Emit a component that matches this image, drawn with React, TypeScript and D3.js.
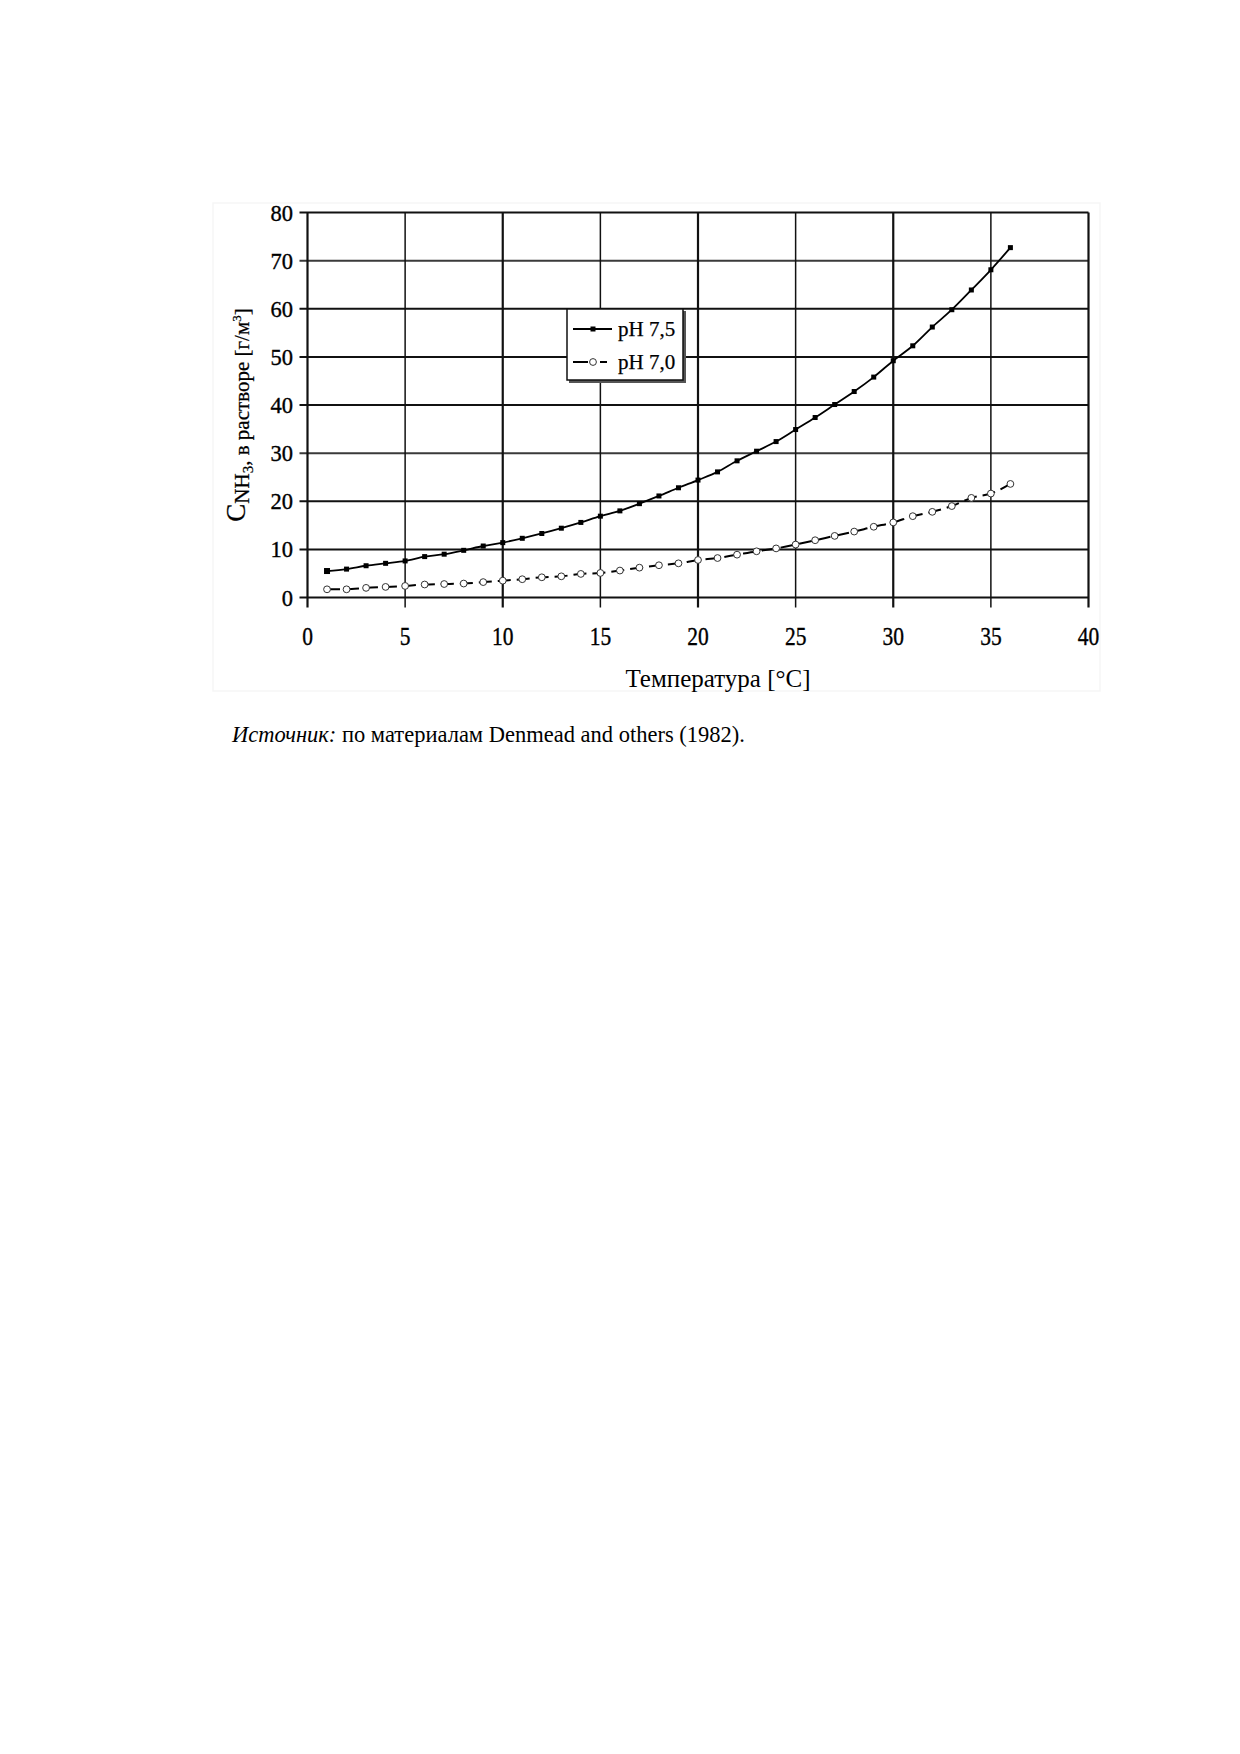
import React, { useEffect, useRef } from 'react';
import * as d3 from 'd3';

// temperature, °C
const temps = [
  1, 2, 3, 4, 5, 6, 7, 8, 9, 10, 11, 12, 13, 14, 15, 16, 17, 18,
  19, 20, 21, 22, 23, 24, 25, 26, 27, 28, 29, 30, 31, 32, 33, 34, 35, 36,
];

// C NH3 in solution, g/m3
const ph75 = [
  5.5, 5.9, 6.6, 7.1, 7.6, 8.5, 9.0, 9.8, 10.7, 11.4, 12.3, 13.3, 14.4, 15.6,
  16.9, 18.0, 19.5, 21.1, 22.8, 24.4, 26.1, 28.4, 30.4, 32.4, 34.9, 37.4,
  40.1, 42.8, 45.8, 49.2, 52.3, 56.2, 59.8, 63.9, 68.1, 72.7,
];
const ph70 = [
  1.7, 1.7, 2.0, 2.2, 2.4, 2.7, 2.8, 2.9, 3.2, 3.5, 3.8, 4.2, 4.4, 4.9, 5.1,
  5.6, 6.2, 6.7, 7.1, 7.8, 8.2, 8.9, 9.6, 10.2, 11.0, 11.9, 12.8, 13.7, 14.7,
  15.6, 16.9, 17.8, 19.0, 20.7, 21.6, 23.6,
];

const xTicks = [0, 5, 10, 15, 20, 25, 30, 35, 40];
const yTicks = [0, 10, 20, 30, 40, 50, 60, 70, 80];
const seriesNames = ['pH 7,5', 'pH 7,0'];

const FONT = '"Liberation Serif", "Times New Roman", serif';

const App = () => {
  const svgRef = useRef<SVGSVGElement>(null);

  useEffect(() => {
    if (!svgRef.current) return;
    const svg = d3.select(svgRef.current);
    svg.selectAll('*').remove();

    const x = d3.scaleLinear().domain([0, 40]).range([307.5, 1088.5]);
    const y = d3.scaleLinear().domain([0, 80]).range([597.5, 212.5]);

    // faint outer frame of the pasted figure
    svg.append('rect')
      .attr('x', 213).attr('y', 203)
      .attr('width', 887).attr('height', 488)
      .attr('fill', 'none')
      .attr('stroke', '#f6f6f6')
      .attr('stroke-width', 1.5);

    const grid = svg.append('g');

    // horizontal grid + y ticks
    grid.selectAll('line.h')
      .data(yTicks)
      .enter()
      .append('line')
      .attr('x1', x(0) - 8)
      .attr('x2', x(40))
      .attr('y1', d => y(d))
      .attr('y2', d => y(d))
      .attr('stroke', d => (d === 70 || d === 30 ? '#3a3a3a' : '#111'))
      .attr('stroke-width', 2);

    // vertical grid + x ticks
    grid.selectAll('line.v')
      .data(xTicks)
      .enter()
      .append('line')
      .attr('x1', d => x(d))
      .attr('x2', d => x(d))
      .attr('y1', y(80))
      .attr('y2', y(0) + 10)
      .attr('stroke', '#111')
      .attr('stroke-width', d => (d % 10 === 0 ? 2.2 : 1.5));

    // tick labels
    svg.append('g')
      .selectAll('text')
      .data(yTicks)
      .enter()
      .append('text')
      .attr('x', 293)
      .attr('y', d => y(d) + 8)
      .attr('text-anchor', 'end')
      .attr('font-family', FONT)
      .attr('font-size', 22.5)
      .attr('fill', '#000')
      .attr('stroke', '#000')
      .attr('stroke-width', 0.35)
      .text(d => d);

    // x digits in the scan look narrow, so squeeze them
    svg.append('g')
      .selectAll('text')
      .data(xTicks)
      .enter()
      .append('text')
      .attr('transform', d => `translate(${x(d)},645) scale(0.86,1)`)
      .attr('text-anchor', 'middle')
      .attr('font-family', FONT)
      .attr('font-size', 25)
      .attr('fill', '#000')
      .attr('stroke', '#000')
      .attr('stroke-width', 0.35)
      .text(d => d);

    // x axis title
    svg.append('text')
      .attr('x', 718)
      .attr('y', 687)
      .attr('text-anchor', 'middle')
      .attr('font-family', FONT)
      .attr('font-size', 25)
      .attr('fill', '#000')
      .text('Температура [°C]');

    // y axis title: C with subscript NH3
    const yt = svg.append('text')
      .attr('transform', 'translate(249,415) rotate(-90)')
      .attr('text-anchor', 'middle')
      .attr('font-family', FONT)
      .attr('font-size', 21)
      .attr('fill', '#000')
      .attr('stroke', '#000')
      .attr('stroke-width', 0.25);
    yt.append('tspan').attr('font-size', 27).attr('dy', -4).text('C');
    yt.append('tspan').attr('dy', 4).text('NH');
    yt.append('tspan').attr('font-size', 15).attr('dy', 4).text('3');
    yt.append('tspan').attr('dy', -4).text(', в растворе [г/м');
    yt.append('tspan').attr('font-size', 13).attr('dy', -8).text('3');
    yt.append('tspan').attr('dy', 8).text(']');

    const pts75 = temps.map((t, i) => [t, ph75[i]] as [number, number]);
    const pts70 = temps.map((t, i) => [t, ph70[i]] as [number, number]);

    const line = d3.line<[number, number]>()
      .x(d => x(d[0]))
      .y(d => y(d[1]))
      .curve(d3.curveMonotoneX);

    // pH 7.0 dashed with open circles
    svg.append('path')
      .datum(pts70)
      .attr('d', line)
      .attr('fill', 'none')
      .attr('stroke', '#000')
      .attr('stroke-width', 2)
      .attr('stroke-dasharray', '13,6');

    svg.append('g')
      .selectAll('circle')
      .data(pts70)
      .enter()
      .append('circle')
      .attr('cx', d => x(d[0]))
      .attr('cy', d => y(d[1]))
      .attr('r', 3.4)
      .attr('fill', '#fff')
      .attr('stroke', '#333')
      .attr('stroke-width', 1);

    // pH 7.5 solid with filled squares
    svg.append('path')
      .datum(pts75)
      .attr('d', line)
      .attr('fill', 'none')
      .attr('stroke', '#000')
      .attr('stroke-width', 1.8);

    svg.append('g')
      .selectAll('rect')
      .data(pts75)
      .enter()
      .append('rect')
      .attr('x', (d, i) => x(d[0]) - (i === 0 ? 3 : 2.5))
      .attr('y', (d, i) => y(d[1]) - (i === 0 ? 3 : 2.5))
      .attr('width', (d, i) => (i === 0 ? 6 : 5))
      .attr('height', (d, i) => (i === 0 ? 6 : 5))
      .attr('fill', '#000');

    // legend
    const lg = svg.append('g');
    lg.append('rect')
      .attr('x', 569).attr('y', 311)
      .attr('width', 117).attr('height', 72)
      .attr('fill', '#555');
    lg.append('rect')
      .attr('x', 567).attr('y', 309)
      .attr('width', 116).attr('height', 71)
      .attr('fill', '#fff')
      .attr('stroke', '#111')
      .attr('stroke-width', 1.5);

    const rows = [329, 362];
    rows.forEach((ry, i) => {
      if (i === 0) {
        lg.append('line')
          .attr('x1', 573).attr('x2', 612)
          .attr('y1', ry).attr('y2', ry)
          .attr('stroke', '#000').attr('stroke-width', 1.8);
        lg.append('rect')
          .attr('x', 590.5).attr('y', ry - 2.5)
          .attr('width', 5).attr('height', 5)
          .attr('fill', '#000');
      } else {
        lg.append('line')
          .attr('x1', 573).attr('x2', 612)
          .attr('y1', ry).attr('y2', ry)
          .attr('stroke', '#000').attr('stroke-width', 2)
          .attr('stroke-dasharray', '15,12,7');
        lg.append('circle')
          .attr('cx', 593).attr('cy', ry)
          .attr('r', 3.4)
          .attr('fill', '#fff')
          .attr('stroke', '#333')
          .attr('stroke-width', 1);
      }
      lg.append('text')
        .attr('x', 618)
        .attr('y', ry + 7)
        .attr('font-family', FONT)
        .attr('font-size', 21)
        .attr('fill', '#000')
        .attr('stroke', '#000')
        .attr('stroke-width', 0.25)
        .text(seriesNames[i]);
    });

    // source note
    const src = svg.append('text')
      .attr('x', 232)
      .attr('y', 742)
      .attr('font-family', FONT)
      .attr('font-size', 22.5)
      .attr('fill', '#000');
    src.append('tspan').attr('font-style', 'italic').text('Источник:');
    src.append('tspan').text(' по материалам Denmead and others (1982).');
  }, []);

  return (
    <svg
      ref={svgRef}
      width={1240}
      height={1754}
      viewBox="0 0 1240 1754"
      style={{ position: 'absolute', left: 0, top: 0, background: '#fff' }}
    />
  );
};

export default App;
